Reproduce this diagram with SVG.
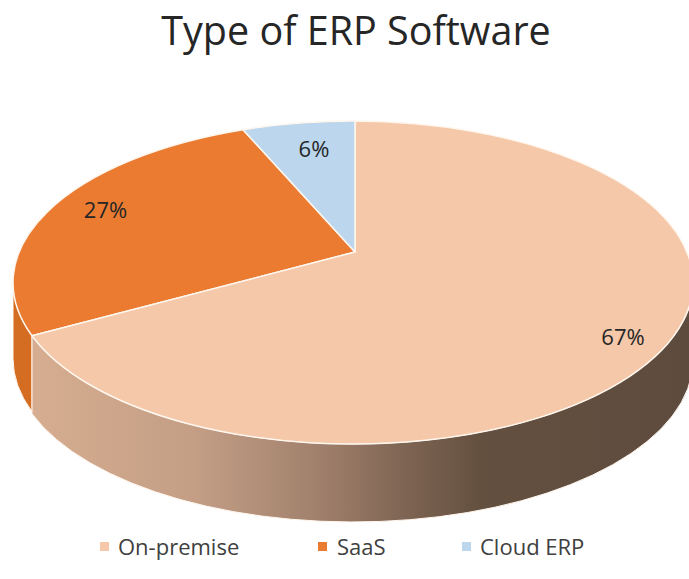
<svg xmlns="http://www.w3.org/2000/svg" width="689" height="579" viewBox="0 0 689 579">
  <defs>
    <style>
      .title { font-family: "Open Sans", "Liberation Sans", sans-serif; font-size: 39.5px; fill: #262626; }
      .pct { font-family: "Open Sans", "Liberation Sans", sans-serif; font-size: 22px; fill: #262626; }
      .legend { font-family: "Open Sans", "Liberation Sans", sans-serif; font-size: 22px; fill: #404040; }
      .face { stroke: #FFF6EE; stroke-width: 1.5; stroke-linejoin: round; }
      .wall { stroke: #FFF6EE; stroke-width: 1; }
      .onprem { fill: #F4C8A9; }
      .saas { fill: #EA7B31; }
      .cloud { fill: #BBD6ED; }
    </style>
    <!-- shading of the front wall of the large slice: light at the left, dark brown at the right -->
    <linearGradient id="wallShade" gradientUnits="userSpaceOnUse" x1="32" y1="0" x2="693" y2="0">
      <stop offset="0" stop-color="#D6AD90"/>
      <stop offset="0.25" stop-color="#C39E85"/>
      <stop offset="0.44" stop-color="#9F7F6B"/>
      <stop offset="0.58" stop-color="#7A6150"/>
      <stop offset="0.68" stop-color="#64503F"/>
      <stop offset="1" stop-color="#5D4B3E"/>
    </linearGradient>
  </defs>

  <rect width="689" height="579" fill="#FFFFFF"/>

  <text class="title" x="356" y="45" text-anchor="middle">Type of ERP Software</text>

  <!-- pie: top ellipse centre (353,282.5), radii 340 x 161.5, wall depth 78 -->
  <g id="slice-saas">
    <path class="wall" fill="#D46C22" d="M13 282.5 A340 161.5 0 0 0 32 335.7 L32 411.7 A340 161.5 0 0 1 13 358.5 Z"/>
    <path class="face saas" d="M355 252 L243 129.7 A340 161.5 0 0 0 32 335.7 Z"/>
  </g>

  <g id="slice-on-premise">
    <path class="wall" fill="url(#wallShade)" d="M32 335.7 A340 161.5 0 0 0 693 282.5 L693 360.5 A340 161.5 0 0 1 32 413.7 Z"/>
    <path class="face onprem" d="M355 252 L32 335.7 A340 161.5 0 1 0 355 121 Z"/>
  </g>

  <g id="slice-cloud">
    <path class="face cloud" d="M355 252 L355 121 A340 161.5 0 0 0 243 129.7 Z"/>
  </g>

  <g id="labels">
    <text class="pct" x="314" y="157" text-anchor="middle">6%</text>
    <text class="pct" x="105.5" y="218" text-anchor="middle">27%</text>
    <text class="pct" x="623" y="345" text-anchor="middle">67%</text>
  </g>

  <g id="legend">
    <rect class="onprem" x="100" y="542" width="9" height="9"/>
    <text class="legend" x="118" y="555">On-premise</text>
    <rect class="saas" x="318" y="542" width="9" height="9"/>
    <text class="legend" x="337" y="555">SaaS</text>
    <rect class="cloud" x="462" y="542" width="9" height="9"/>
    <text class="legend" x="480" y="555">Cloud ERP</text>
  </g>
</svg>
